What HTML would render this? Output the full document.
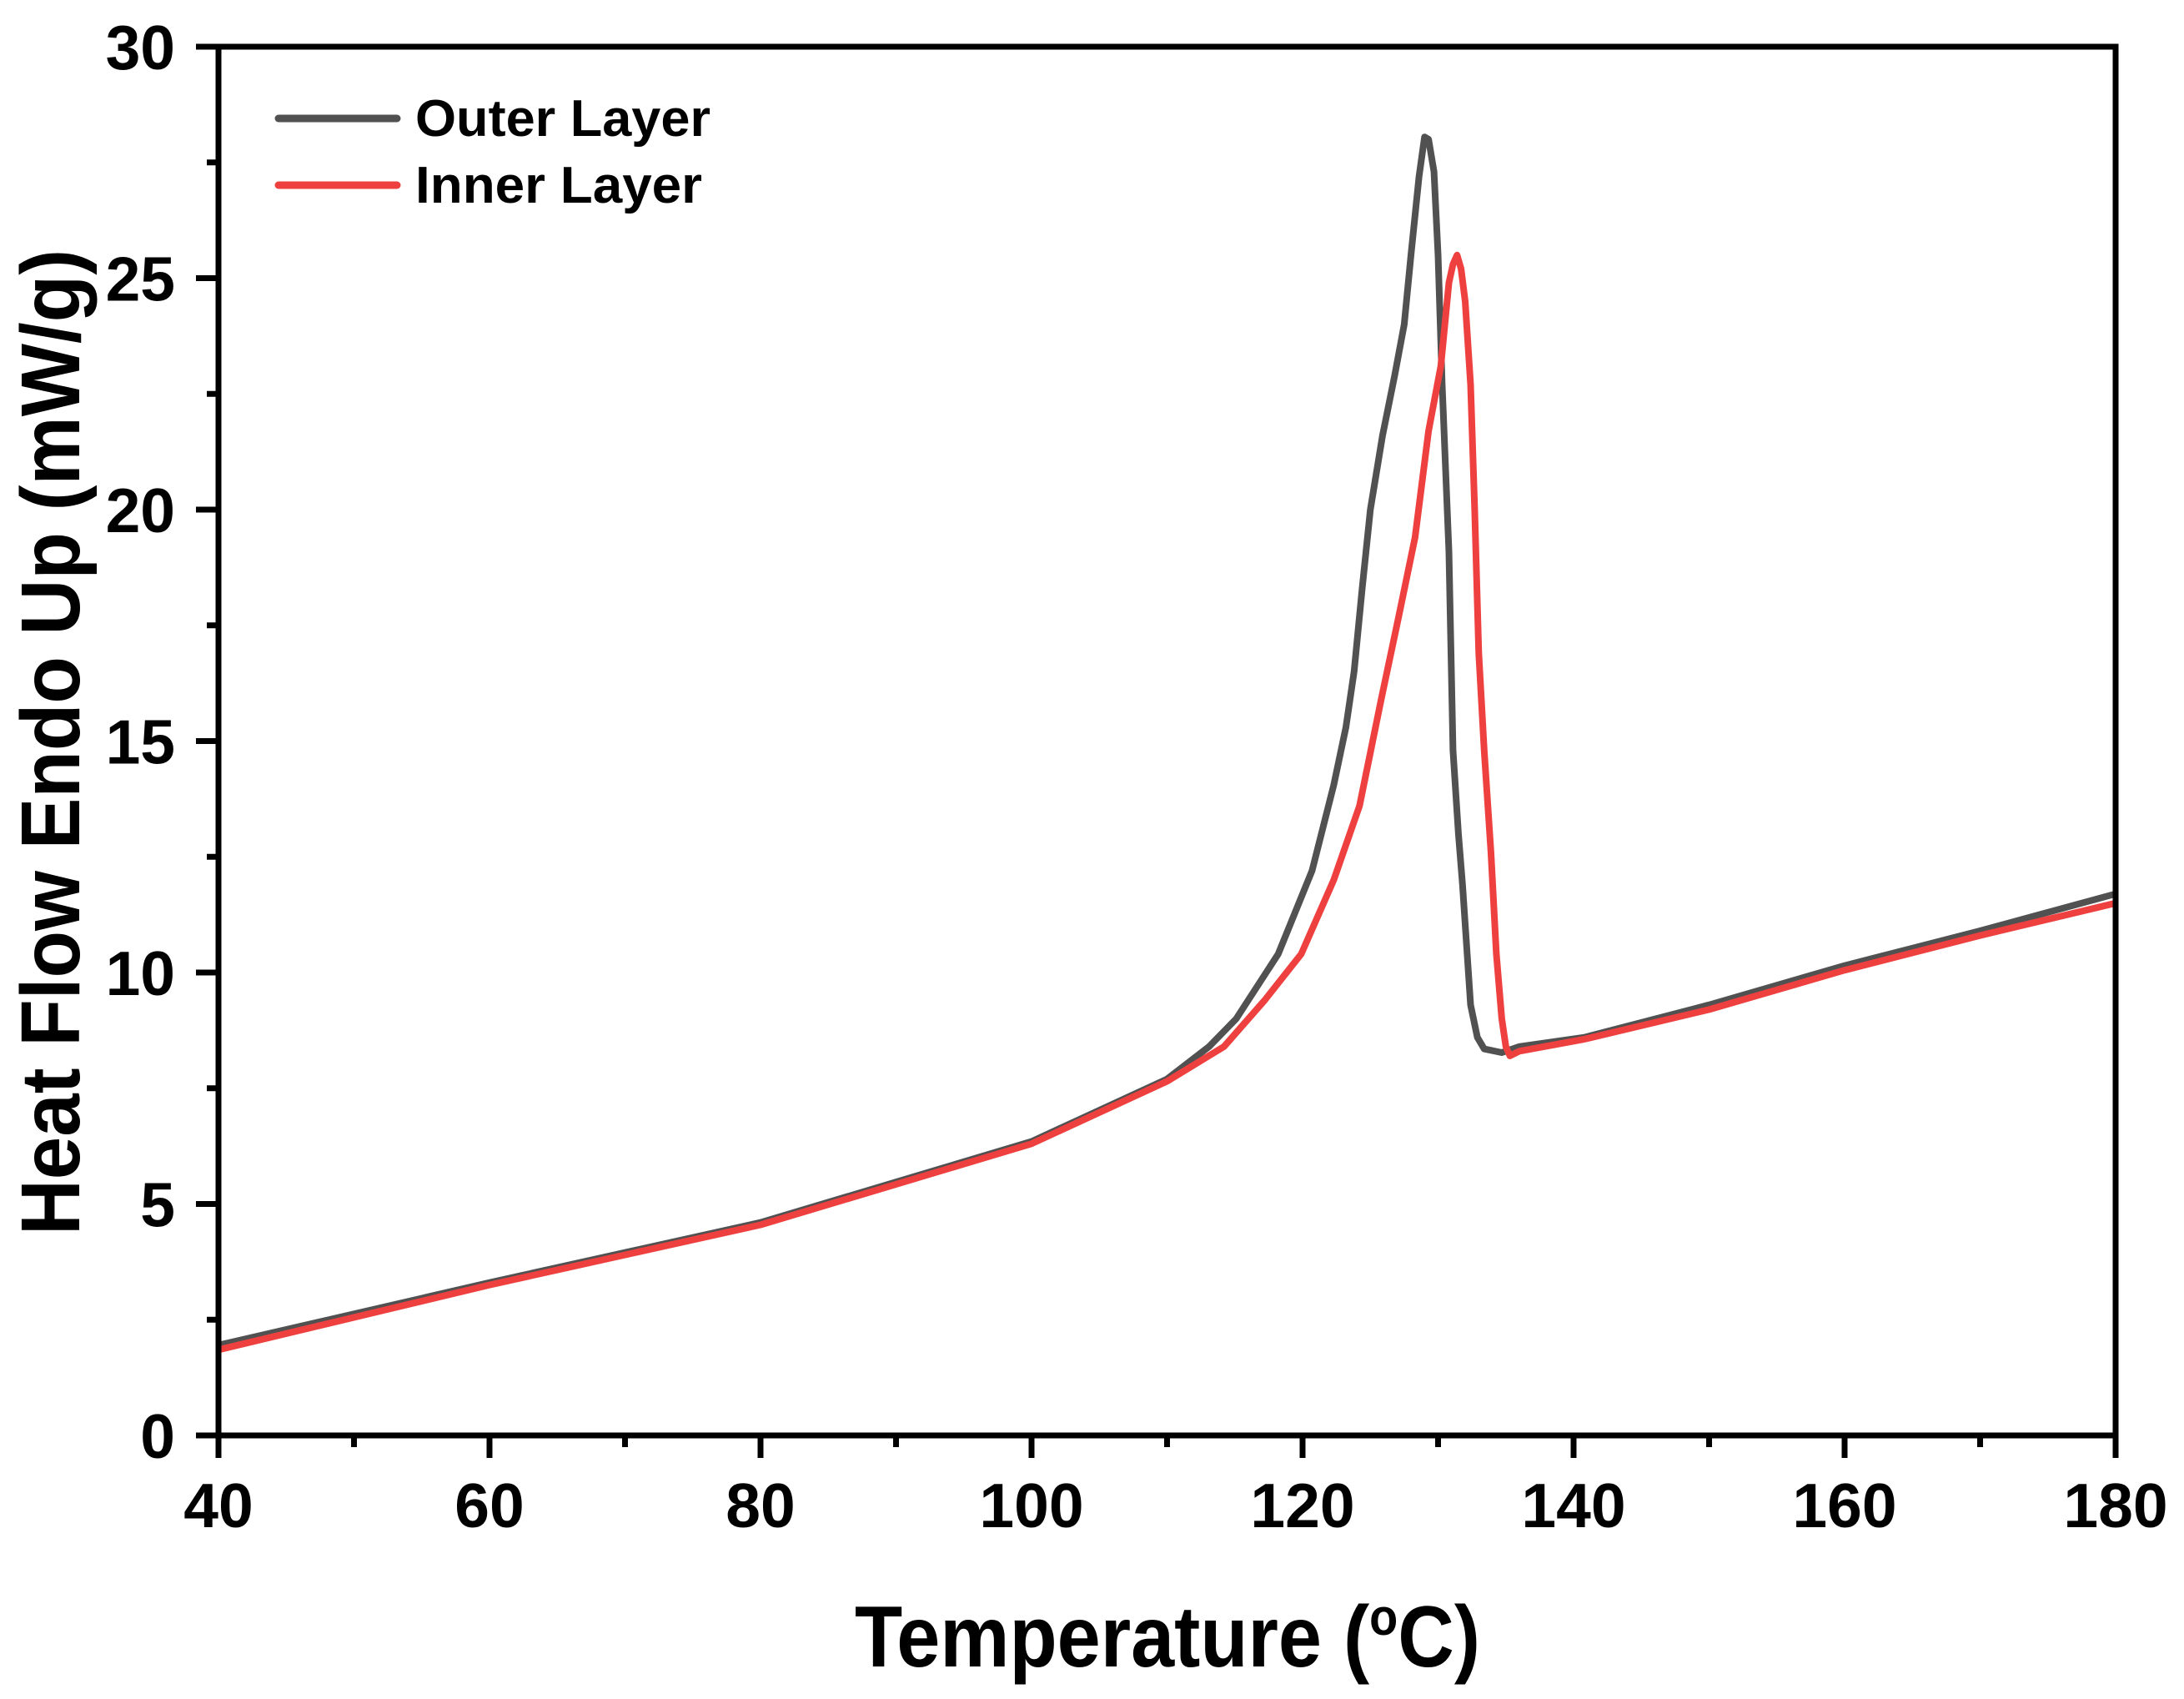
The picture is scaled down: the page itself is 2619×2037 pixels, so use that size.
<!DOCTYPE html>
<html><head><meta charset="utf-8"><style>
html,body{margin:0;padding:0;background:#fff;}
svg{display:block;font-family:"Liberation Sans",Arial,sans-serif;font-weight:bold;}
</style></head><body>
<svg id="chart" width="2619" height="2037" viewBox="0 0 2619 2037" xmlns="http://www.w3.org/2000/svg">
<rect width="2619" height="2037" fill="#fff"/>
<g id="series"></g>
<g id="axes"></g>
<g>
<line x1="334" y1="142" x2="476" y2="142" stroke="#515151" stroke-width="9" stroke-linecap="round"/>
<text x="498" y="163" font-size="62" textLength="354" lengthAdjust="spacingAndGlyphs">Outer Layer</text>
<line x1="334" y1="222" x2="476" y2="222" stroke="#ef4040" stroke-width="9" stroke-linecap="round"/>
<text x="498" y="243" font-size="62" textLength="344" lengthAdjust="spacingAndGlyphs">Inner Layer</text>
</g>
<text x="1400" y="1998" font-size="104" text-anchor="middle" textLength="750" lengthAdjust="spacingAndGlyphs">Temperature (<tspan font-size="62" dy="-38">o</tspan><tspan dy="38">C)</tspan></text>
<text transform="translate(95,890) rotate(-90)" x="0" y="0" font-size="100" text-anchor="middle" textLength="1182" lengthAdjust="spacingAndGlyphs">Heat Flow Endo Up (mW/g)</text>
</svg>
<script>
const outerT = [40,60,80,100,110,113.1,115.1,118.2,120.7,122.3,123.2,123.8,124.4,125.0,125.9,126.8,127.5,128.0,128.6,129.0,129.3,129.7,130.0,130.3,130.8,131.1,131.5,131.8,132.4,132.9,133.4,134.7,136,140.8,150,160,170,180];
const outerV = [1.95,3.3,4.6,6.35,7.7,8.4,9.0,10.4,12.2,14.05,15.3,16.5,18.3,20.0,21.6,22.9,24.0,25.5,27.2,28.05,28.0,27.3,25.5,22.7,19.1,14.8,13.0,11.9,9.3,8.6,8.35,8.27,8.4,8.6,9.3,10.15,10.9,11.7];
const innerT = [40,60,80,100,110,114.2,117.2,119.9,122.3,124.2,125.8,127.1,128.3,129.3,130.2,130.8,131.1,131.4,131.7,132.0,132.4,132.7,133.0,133.4,133.9,134.3,134.7,135.0,135.3,136,140.8,150,160,170,180];
const innerV = [1.85,3.25,4.55,6.3,7.65,8.4,9.4,10.4,12.0,13.6,15.9,17.7,19.4,21.7,23.1,24.9,25.3,25.5,25.2,24.5,22.7,20.0,16.9,14.8,12.6,10.4,9.0,8.4,8.2,8.3,8.56,9.2,10.05,10.8,11.5];
const xTicks = [40,60,80,100,120,140,160,180];
const yTicks = [0,5,10,15,20,25,30];
const X0=262,X1=2537,Y0=1721,Y1=56;
function sx(t){return X0+(t-40)/(180-40)*(X1-X0);}
function sy(v){return Y0-(v-0)/(30-0)*(Y0-Y1);}
const NS="http://www.w3.org/2000/svg";
const ser=document.getElementById('series'), ax=document.getElementById('axes');
function mk(tag,attrs,parent){const e=document.createElementNS(NS,tag);for(const k in attrs)e.setAttribute(k,attrs[k]);parent.appendChild(e);return e;}
function path(T,V){return T.map((t,i)=>(i?'L':'M')+sx(t).toFixed(1)+' '+sy(V[i]).toFixed(1)).join(' ');}
const po=mk('path',{d:path(outerT,outerV),fill:'none',stroke:'#515151','stroke-width':8,'stroke-linejoin':'round'},ser);


const pi=mk('path',{d:path(innerT,innerV),fill:'none',stroke:'#ef4040','stroke-width':8,'stroke-linejoin':'round'},ser);


const fr=mk('rect',{x:X0,y:Y1,width:X1-X0,height:Y0-Y1,fill:'none',stroke:'#000','stroke-width':7},ax);


xTicks.forEach(t=>{
  const l=mk('line',{x1:sx(t),x2:sx(t),y1:Y0,y2:Y0+27,stroke:'#000','stroke-width':7},ax);
  
  
  const tx=mk('text',{x:sx(t),y:Y0+110,'font-size':75,'text-anchor':'middle'},ax);
  tx.textContent=t;
  
  
});
for(let i=0;i<xTicks.length-1;i++){
  const t=(xTicks[i]+xTicks[i+1])/2;
  const l=mk('line',{x1:sx(t),x2:sx(t),y1:Y0,y2:Y0+14,stroke:'#000','stroke-width':7},ax);
  
  
}
yTicks.forEach(v=>{
  const l=mk('line',{x1:X0-27,x2:X0,y1:sy(v),y2:sy(v),stroke:'#000','stroke-width':7},ax);
  
  
  const tx=mk('text',{x:X0-52,y:sy(v)+27,'font-size':75,'text-anchor':'end'},ax);
  tx.textContent=v;
  
  
});
for(let i=0;i<yTicks.length-1;i++){
  const v=(yTicks[i]+yTicks[i+1])/2;
  const l=mk('line',{x1:X0-14,x2:X0,y1:sy(v),y2:sy(v),stroke:'#000','stroke-width':7},ax);
  
  
}
</script>
</body></html>
